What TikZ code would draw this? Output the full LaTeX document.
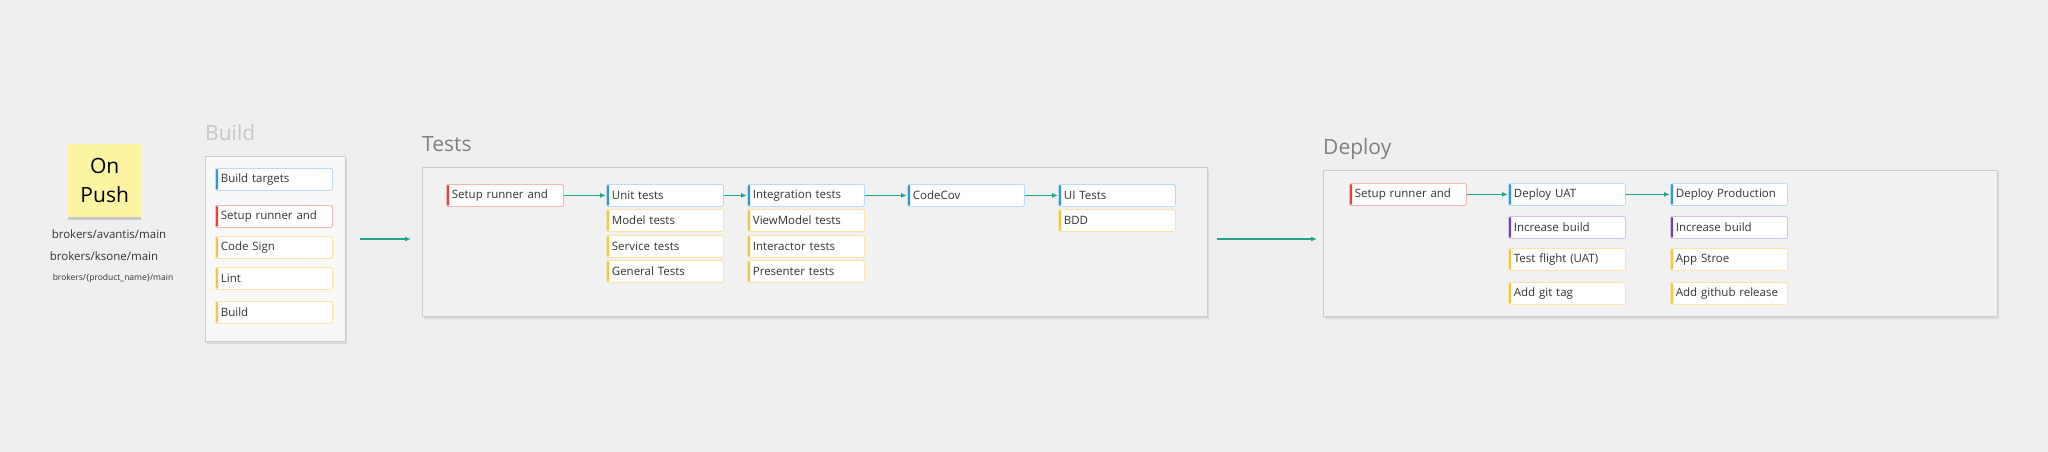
\documentclass[tikz,border=0pt]{standalone}
\usepackage{fontspec}
\setmainfont{Open Sans}
\usetikzlibrary{arrows.meta,shadows}
\definecolor{bg}{HTML}{EFEFEF}
\definecolor{panelfill}{HTML}{F1F1F1}
\definecolor{panelline}{HTML}{CDCDCD}
\definecolor{sticky}{HTML}{FBF4A0}
\definecolor{flow}{HTML}{22A58A}
\definecolor{cblue}{HTML}{3096E0}
\definecolor{lblue}{HTML}{BADCF4}
\definecolor{cred}{HTML}{E8413C}
\definecolor{lred}{HTML}{F6B8B2}
\definecolor{cyel}{HTML}{F6C443}
\definecolor{lyel}{HTML}{FBE4A8}
\definecolor{cpur}{HTML}{7440B8}
\definecolor{lpur}{HTML}{D6C0EA}
\definecolor{txt}{HTML}{333333}
\tikzset{
  taskbox/.style 2 args={draw=#2, line width=0.8pt, fill=white, rounded corners=1.5pt,
    anchor=north west, minimum height=22pt, text width=106pt, inner xsep=5.5pt, inner ysep=0pt,
    align=left, font=\fontsize{11.5}{13}\selectfont, text=txt,
    path picture={\fill[#1] (path picture bounding box.south west) rectangle ([xshift=2.6pt]path picture bounding box.north west);}},
  bluebox/.style={taskbox={cblue}{lblue}},
  redbox/.style={taskbox={cred}{lred}},
  yelbox/.style={taskbox={cyel}{lyel}},
  purbox/.style={taskbox={cpur}{lpur}},
  panel/.style={draw=panelline, line width=1pt, fill=panelfill, anchor=north west, inner sep=0pt,
    drop shadow={shadow xshift=1.5pt, shadow yshift=-2.5pt, opacity=0.18}},
  stitle/.style={anchor=west, inner sep=0pt, font=\fontsize{21}{24}\selectfont},
  flowarrow/.style={draw=flow, line width=1.2pt, -{Latex[length=6pt,width=5pt]}},
  branch/.style={text=txt, inner sep=0pt},
}
\begin{document}
\begin{tikzpicture}[x=1pt,y=-1pt]
\fill[bg] (0,0) rectangle (2048,452);
\useasboundingbox (0,0) rectangle (2048,452);

% On Push sticky
\node[fill=sticky, anchor=north west, minimum width=73pt, minimum height=73pt, inner sep=0pt,
  drop shadow={shadow xshift=0pt, shadow yshift=-3pt, opacity=0.35},
  align=center, font=\fontsize{21}{29}\selectfont, text=black] (push) at (68,144) {On\\Push};
\node[branch, font=\fontsize{11.5}{13}\selectfont] (b1) at (109,234) {brokers/avantis/main};
\node[branch, font=\fontsize{11.5}{13}\selectfont] (b2) at (104,256) {brokers/ksone/main};
\node[branch, font=\fontsize{8.5}{10}\selectfont] (b3) at (113,278) {brokers/\{product\_name\}/main};

% Build
\node[stitle, text=black!22] (buildt) at (205,133) {Build};
\node[panel, minimum width=140pt, minimum height=185pt, fill=white!50!panelfill] (buildp) at (205,156) {};
\node[bluebox] (bt) at (215,168) {Build targets};
\node[redbox] (bs) at (215,205) {Setup runner and};
\node[yelbox] (bc) at (215,236) {Code Sign};
\node[yelbox] (bl) at (215,267) {Lint};
\node[yelbox] (bb) at (215,301) {Build};

% Tests
\node[stitle, text=black!50] (testt) at (422,144) {Tests};
\node[panel, minimum width=785pt, minimum height=149pt] (testp) at (422,167) {};
\node[redbox] (ts) at (446,184) {Setup runner and};
\node[bluebox] (tu) at (606,184) {Unit tests};
\node[yelbox] (tm) at (606,209) {Model tests};
\node[yelbox] (tsv) at (606,235) {Service tests};
\node[yelbox] (tg) at (606,260) {General Tests};
\node[bluebox] (ti) at (747,184) {Integration tests};
\node[yelbox] (tv) at (747,209) {ViewModel tests};
\node[yelbox] (tin) at (747,235) {Interactor tests};
\node[yelbox] (tp) at (747,260) {Presenter tests};
\node[bluebox] (tc) at (907,184) {CodeCov};
\node[bluebox] (tui) at (1058,184) {UI Tests};
\node[yelbox] (tbdd) at (1058,209) {BDD};
\draw[flowarrow] (ts.east) -- (tu.west);
\draw[flowarrow] (tu.east) -- (ti.west);
\draw[flowarrow] (ti.east) -- (tc.west);
\draw[flowarrow] (tc.east) -- (tui.west);

% Deploy
\node[stitle, text=black!50] (dept) at (1323,149) {Deploy};
\node[panel, minimum width=674pt, minimum height=146pt] (depp) at (1323,170) {};
\node[redbox] (ds) at (1349,183) {Setup runner and};
\node[bluebox] (du) at (1508,183) {Deploy UAT};
\node[purbox] (dui) at (1508,216) {Increase build};
\node[yelbox] (dtf) at (1508,248) {Test flight (UAT)};
\node[yelbox] (dgt) at (1508,282) {Add git tag};
\node[bluebox] (dp) at (1670,183) {Deploy Production};
\node[purbox] (dpi) at (1670,216) {Increase build};
\node[yelbox] (das) at (1670,248) {App Stroe};
\node[yelbox] (dgr) at (1670,282) {Add github release};
\draw[flowarrow] (ds.east) -- (du.west);
\draw[flowarrow] (du.east) -- (dp.west);

% stage arrows
\coordinate (a1s) at (360,239);
\coordinate (a1e) at (411,239);
\coordinate (a2s) at (1217,239);
\coordinate (a2e) at (1317,239);
\draw[flowarrow] (a1s) -- (a1e);
\draw[flowarrow] (a2s) -- (a2e);
\end{tikzpicture}
\end{document}
